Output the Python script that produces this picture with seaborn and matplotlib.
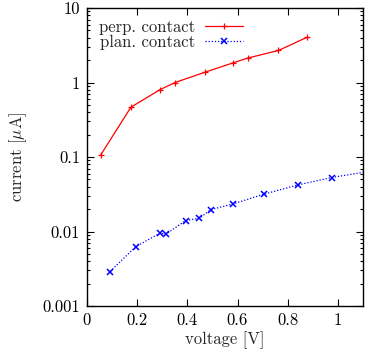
import matplotlib
matplotlib.use("Agg")
import matplotlib.pyplot as plt
import matplotlib.ticker as mticker
import seaborn as sns

# perpendicular contact
perp_v = [0.055, 0.175, 0.292, 0.351, 0.469, 0.583, 0.643, 0.763, 0.878]
perp_i = [0.107, 0.466, 0.805, 1.0, 1.37, 1.84, 2.14, 2.69, 4.06]

# planar contact
plan_v = [0.092, 0.194, 0.291, 0.314, 0.393, 0.448, 0.494, 0.583, 0.705, 0.841, 0.975, 1.12]
plan_i = [0.0029, 0.00625, 0.0095, 0.0092, 0.0140, 0.0151, 0.0197, 0.0235, 0.0317, 0.0423, 0.053, 0.064]

x_ticks = [0, 0.2, 0.4, 0.6, 0.8, 1]
x_labels = ["0", "0.2", "0.4", "0.6", "0.8", "1"]
y_ticks = [0.001, 0.01, 0.1, 1, 10]
y_labels = ["0.001", "0.01", "0.1", "1", "10"]

sns.set_style("ticks", {"xtick.direction": "in", "ytick.direction": "in"})
plt.rcParams["font.family"] = ["cmr10", "DejaVu Serif"]
plt.rcParams["mathtext.fontset"] = "cm"
plt.rcParams["axes.formatter.use_mathtext"] = True
plt.rcParams["font.size"] = 12

fig = plt.figure(figsize=(3.74, 3.53), dpi=100)
ax = fig.add_axes([0.2326, 0.1331, 0.738, 0.8442])

# seaborn draws marker edges white by default, so set the edge colour explicitly
sns.lineplot(x=perp_v, y=perp_i, ax=ax, color="red", label="perp. contact", sort=False,
             marker="+", markersize=5, markeredgewidth=0.9, markeredgecolor="red",
             linewidth=0.9)
sns.lineplot(x=plan_v, y=plan_i, ax=ax, color="blue", label="plan. contact", sort=False,
             marker="x", markersize=3.8, markeredgewidth=1.1, markeredgecolor="blue",
             linewidth=0.9, linestyle=(0, (1, 1.5)))

l_perp, l_plan = ax.lines[0], ax.lines[1]

ax.set_yscale("log")
ax.set_xlim(0, 1.1)
ax.set_ylim(0.001, 10)
ax.set_xticks(x_ticks)
ax.set_xticklabels(x_labels)
ax.set_yticks(y_ticks)
ax.set_yticklabels(y_labels)
ax.yaxis.set_minor_locator(mticker.LogLocator(base=10, subs=range(2, 10)))
ax.yaxis.set_minor_formatter(mticker.NullFormatter())
ax.tick_params(which="both", direction="in", top=True, right=True, colors="black",
               labelsize=12)
ax.tick_params(which="major", length=5, width=0.8, pad=5)
ax.tick_params(which="minor", length=2.5, width=0.8)
for s in ax.spines.values():
    s.set_color("black")
    s.set_linewidth(1.0)

ax.set_xlabel("voltage [V]", fontsize=12, labelpad=2)
ax.set_ylabel(r"current [$\mu$A]", fontsize=12, labelpad=10)

ax.legend(handles=[l_perp, l_plan], loc="upper left", frameon=False, markerfirst=False,
          fontsize=12, handlelength=2.3, handletextpad=0.6, labelspacing=0.0,
          borderaxespad=0.3, bbox_to_anchor=(0.0, 1.0))

plt.savefig("out.png", dpi=100)
plt.close()
